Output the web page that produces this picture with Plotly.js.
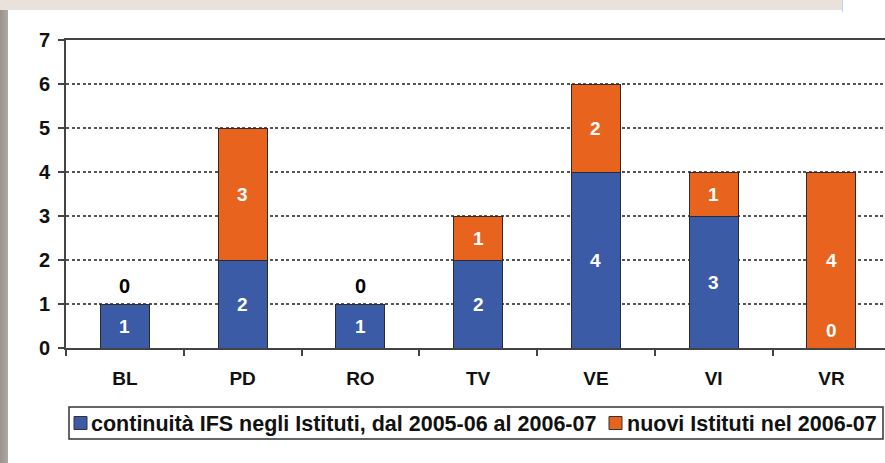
<!DOCTYPE html>
<html><head><meta charset="utf-8">
<script src="https://cdn.plot.ly/plotly-3.0.1.min.js"></script>
<style>
html,body{margin:0;padding:0;background:#fff;width:885px;height:463px;overflow:hidden;}
#topband{position:absolute;left:0;top:0;width:842px;height:10px;background:#e9e1dc;}
#blueline{position:absolute;left:842px;top:0;width:1px;height:12px;background:#b9d3ee;}
#leftband{position:absolute;left:0;top:10px;width:8px;height:453px;background:linear-gradient(to right,#9a928c,#b0a8a2);}
#chart{position:absolute;left:0;top:0;width:885px;height:463px;}
</style></head>
<body>
<div id="topband"></div><div id="blueline"></div><div id="leftband"></div>
<div id="chart"></div>
<script>
const categories = ["BL","PD","RO","TV","VE","VI","VR"];
const continuita = [1,2,1,2,4,3,0];
const nuovi = [0,3,0,1,2,1,4];
const seriesNames = ["continuità IFS negli Istituti, dal 2005-06 al 2006-07","nuovi Istituti nel 2006-07"];
const yTicks = [0,1,2,3,4,5,6,7];

const blue = "#3b5ba7", orange = "#e8631d", edge = "#2b2b2b";
const FAM = "Liberation Sans, Arial, sans-serif";
const lblFont = {family:FAM, size:19, color:"#ffffff", weight:"bold"};

// plot area geometry (pixels)
const W = 885, H = 463, ML = 66, MR = 0, MT = 40, MB = 115;
const PW = W - ML - MR, PH = H - MT - MB;
const px = v => (v - ML) / PW;          // pixel x -> paper x
const py = v => (H - MB - v) / PH;      // pixel y -> paper y

const traces = [
  {type:"bar", name:seriesNames[0], x:categories, y:continuita,
   marker:{color:blue, line:{color:edge, width:1}}, hoverinfo:"skip"},
  {type:"bar", name:seriesNames[1], x:categories, y:nuovi,
   marker:{color:orange, line:{color:edge, width:1}}, hoverinfo:"skip"}
];
const seriesColors = [blue, orange];

const annotations = [];
categories.forEach((c,i)=>{
  const b = continuita[i], o = nuovi[i];
  annotations.push({x:c, y: b>0 ? b/2 : 0.4, text:String(b), showarrow:false,
    font:lblFont, xanchor:"center", yanchor:"middle"});
  if (o>0) {
    annotations.push({x:c, y:b+o/2, text:String(o), showarrow:false,
      font:lblFont, xanchor:"center", yanchor:"middle"});
  } else {
    annotations.push({x:c, y:b+o+0.4, text:String(o), showarrow:false,
      font:Object.assign({},lblFont,{color:"#000000", size:20}), xanchor:"center", yanchor:"middle"});
  }
});

// custom legend (box, swatches, texts)
const shapes = [
  {type:"rect", xref:"paper", yref:"paper", x0:px(69), x1:px(883), y0:py(407), y1:py(439),
   line:{color:"#333", width:1.5}, fillcolor:"#fff", layer:"below"}
];
const legendSwatchX = [74, 609];
const legendTextX = [89, 625];
seriesNames.forEach((n,k)=>{
  shapes.push({type:"rect", xref:"paper", yref:"paper",
    x0:px(legendSwatchX[k]), x1:px(legendSwatchX[k]+13), y0:py(416.5), y1:py(429.5),
    line:{color:"#333", width:1}, fillcolor:seriesColors[k]});
  annotations.push({xref:"paper", yref:"paper", x:px(legendTextX[k]), y:py(423.5),
    xanchor:"left", yanchor:"middle", text:n, showarrow:false,
    font:{family:FAM, size:21.5, weight:"bold", color:"#111"}});
});

const layout = {
  width:W, height:H,
  margin:{l:ML, r:MR, t:MT, b:MB, pad:0},
  paper_bgcolor:"rgba(0,0,0,0)", plot_bgcolor:"rgba(0,0,0,0)",
  barmode:"stack", bargap:0.585,
  showlegend:false,
  font:{family:FAM, color:"#111"},
  xaxis:{type:"category", range:[-0.5,6.455], showline:true, linecolor:"#444", linewidth:2,
    mirror:true, ticks:"outside", tickson:"boundaries", ticklen:6, tickcolor:"#444", tickwidth:2,
    ticklabelstandoff:12,
    tickfont:{size:19, weight:"bold", color:"#111"}, showgrid:false, fixedrange:true},
  yaxis:{range:[0,7], tickvals:yTicks, showline:true, linecolor:"#444", linewidth:2,
    ticks:"outside", ticklen:6, tickcolor:"#444", tickwidth:2, ticklabelstandoff:4,
    tickfont:{size:20, weight:"bold", color:"#111"},
    showgrid:true, gridcolor:"#555", griddash:"3px,2.5px", gridwidth:2, zeroline:false, fixedrange:true},
  shapes:shapes,
  annotations:annotations
};

Plotly.newPlot("chart", traces, layout, {displayModeBar:false, staticPlot:true});
</script>
</body></html>
